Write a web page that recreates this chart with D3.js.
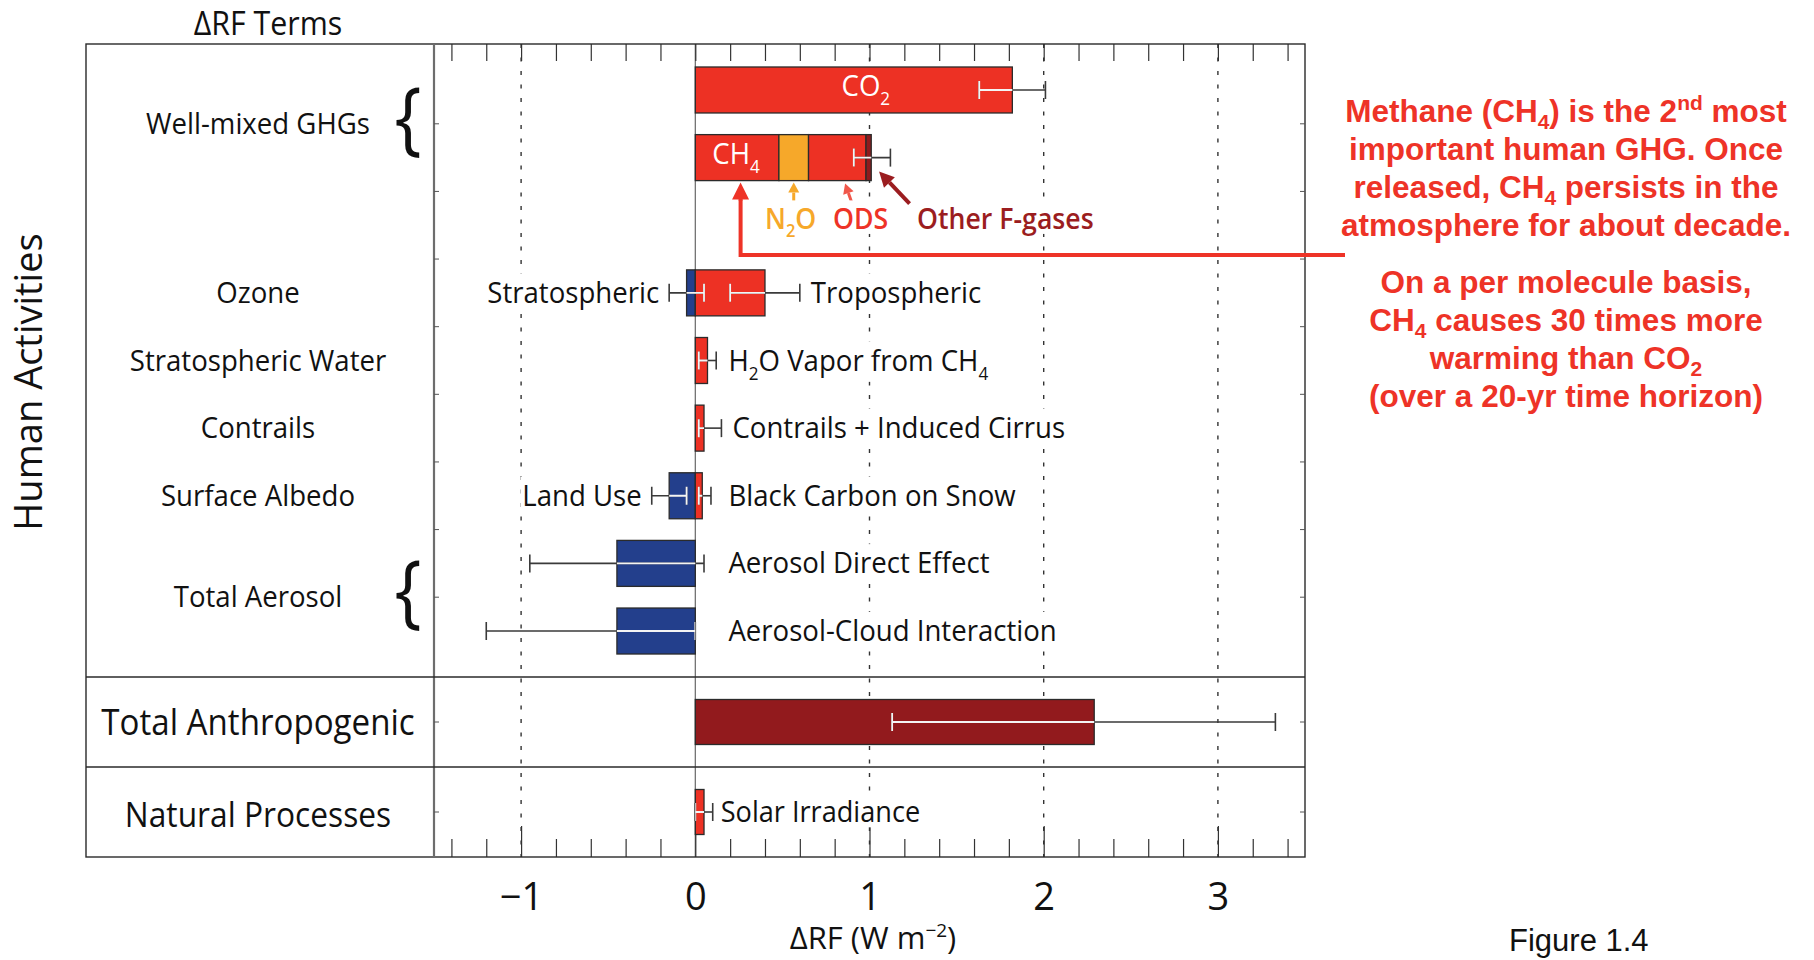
<!DOCTYPE html>
<html>
<head>
<meta charset="utf-8">
<script src="https://cdn.jsdelivr.net/npm/d3@7"></script>
<style>
  html, body { margin: 0; padding: 0; background: #fff; }
  svg { display: block; }
  .sans { font-family: "Open Sans", "Noto Sans", sans-serif; }
  .note { font-family: "Liberation Sans", Arial, sans-serif; font-weight: bold; }
</style>
</head>
<body>
<svg id="chart" width="1814" height="960"></svg>
<script>
// ---- Radiative forcing terms (W m-2): best estimate and uncertainty range ----
const rowOrder = ["co2", "ch4", "gap", "ozone", "h2o", "contrails", "albedo", "aerDirect", "aerCloud"];
const panelOrder = ["total", "natural"];

const groupLabels = [
  { label: "Well-mixed GHGs", rows: ["co2", "ch4"], brace: true },
  { label: "Ozone", rows: ["ozone"] },
  { label: "Stratospheric Water", rows: ["h2o"] },
  { label: "Contrails", rows: ["contrails"] },
  { label: "Surface Albedo", rows: ["albedo"] },
  { label: "Total Aerosol", rows: ["aerDirect", "aerCloud"], brace: true }
];
const panelLabels = [
  { panel: "total", label: "Total Anthropogenic" },
  { panel: "natural", label: "Natural Processes" }
];

// CH4-row stack of well-mixed non-CO2 gases
const ghgStack = [
  { term: "CH4", value: 0.48 },
  { term: "N2O", value: 0.17 },
  { term: "ODS", value: 0.33 },
  { term: "Other F-gases", value: 0.03 }
];
const ghgRange = [0.91, 1.12];

const co2Term = { row: "co2", term: "CO_{2}", value: 1.82, lo: 1.63, hi: 2.01 };

const terms = [
  { row: "ozone", term: "Stratospheric", value: -0.05, lo: -0.15, hi: 0.05 },
  { row: "ozone", term: "Tropospheric", value: 0.40, lo: 0.20, hi: 0.60 },
  { row: "h2o", term: "H_{2}O Vapor from CH_{4}", value: 0.07, lo: 0.02, hi: 0.12 },
  { row: "contrails", term: "Contrails + Induced Cirrus", value: 0.05, lo: 0.02, hi: 0.15 },
  { row: "albedo", term: "Land Use", value: -0.15, lo: -0.25, hi: -0.05 },
  { row: "albedo", term: "Black Carbon on Snow", value: 0.04, lo: 0.02, hi: 0.09 },
  { row: "aerDirect", term: "Aerosol Direct Effect", value: -0.45, lo: -0.95, hi: 0.05 },
  { row: "aerCloud", term: "Aerosol-Cloud Interaction", value: -0.45, lo: -1.20, hi: 0.00 }
];

const panelTerms = [
  { panel: "total", term: "", value: 2.29, lo: 1.13, hi: 3.33 },
  { panel: "natural", term: "Solar Irradiance", value: 0.05, lo: 0.00, hi: 0.10 }
];

const xTickLabels = [-1, 0, 1, 2, 3];
const xMinorTicks = d3.range(-7, 18).map(i => i / 5);

const noteLines = [
  ["Methane (CH_{4}) is the 2^{nd} most", "important human GHG. Once",
   "released, CH_{4} persists in the", "atmosphere for about decade."],
  ["On a per molecule basis,", "CH_{4} causes 30 times more",
   "warming than CO_{2}", "(over a 20-yr time horizon)"]
];

// ---- colours ----
const colours = {
  warm: "#ed3124", cool: "#233f8c",
  "N2O": "#f6a82a", "ODS": "#ed3124", "Other F-gases": "#8e1b1d",
  total: "#921a1d", frame: "#2a2a2a", err: "#3a3a3a",
  note: "#ee3327", odsArrow: "#f0574a", fgas: "#9b1d20"
};

// ---- layout ----
const frame = { left: 86, right: 1305, top: 44, bottom: 857, split: 434, upperBottom: 677 };
const squeeze = 0.92;   // narrow the sans labels slightly
const svg = d3.select("#chart");

const x = d3.scaleLinear().domain([-1.5, 3.5]).range([frame.split, frame.right]);
const yRow = d3.scaleBand().domain(rowOrder).range([frame.top, frame.upperBottom])
  .paddingInner(0.32).paddingOuter(0.34);
const yPanel = d3.scaleBand().domain(panelOrder).range([frame.upperBottom, frame.bottom])
  .paddingInner(0.5).paddingOuter(0.25);
const rowMid = r => yRow(r) + yRow.bandwidth() / 2;
const panelMid = p => yPanel(p) + yPanel.bandwidth() / 2;

// text with _{sub} / ^{sup} markup
function rich(sel, str, small, sub, sup) {
  const parts = str.split(/([_^]\{[^}]*\})/).filter(s => s.length);
  let shift = 0;
  parts.forEach(p => {
    const m = p.match(/^([_^])\{([^}]*)\}$/);
    if (m) {
      const d = m[1] === "_" ? sub : -sup;
      sel.append("tspan").attr("dy", d - shift).attr("font-size", small).text(m[2]);
      shift = d;
    } else {
      sel.append("tspan").attr("dy", -shift).text(p);
      shift = 0;
    }
  });
  return sel;
}

// narrowed sans label, optionally on a white backing
function label(parent, str, xPos, yPos, opts) {
  const o = Object.assign({ size: 30, anchor: "start", fill: "#111", weight: 400, backing: false, sx: squeeze }, opts);
  const g = parent.append("g").attr("transform", `translate(${xPos},${yPos}) scale(${o.sx},1)`);
  const bg = o.backing ? g.append("rect").attr("fill", "#fff") : null;
  const t = rich(g.append("text").attr("class", "sans").attr("font-size", o.size)
    .attr("font-weight", o.weight).attr("fill", o.fill).attr("text-anchor", o.anchor),
    str, o.size * 0.62, o.size * 0.3, 0);
  if (bg) {
    const b = t.node().getBBox();
    bg.attr("x", b.x - 2).attr("y", b.y + 3).attr("width", b.width + 4).attr("height", b.height - 6);
  }
  return g;
}

// ---- grid ----
const grid = svg.append("g");
grid.selectAll("line.dash").data(xTickLabels.filter(d => d !== 0)).join("line")
  .attr("x1", d => x(d)).attr("x2", d => x(d))
  .attr("y1", frame.top).attr("y2", frame.bottom)
  .attr("stroke", "#333").attr("stroke-width", 1.4).attr("stroke-dasharray", "4,9.5");
grid.append("line")
  .attr("x1", x(0)).attr("x2", x(0)).attr("y1", frame.top).attr("y2", frame.bottom)
  .attr("stroke", "#666").attr("stroke-width", 1.2);

// ---- axes (ticks along top and bottom frame) ----
const axTop = svg.append("g").attr("transform", `translate(0,${frame.top})`)
  .call(d3.axisBottom(x).tickValues(xMinorTicks).tickSize(17).tickFormat(""));
const axBottomMinor = svg.append("g").attr("transform", `translate(0,${frame.bottom})`)
  .call(d3.axisBottom(x).tickValues(xMinorTicks.filter(t => Math.abs(t - Math.round(t)) > 1e-9))
    .tickSize(-18).tickFormat(""));
const axBottomMajor = svg.append("g").attr("transform", `translate(0,${frame.bottom})`)
  .call(d3.axisBottom(x).tickValues(xTickLabels).tickSize(-31).tickPadding(26)
    .tickFormat(d => d < 0 ? "\u2212" + Math.abs(d) : d));
[axTop, axBottomMinor, axBottomMajor].forEach(a => {
  a.select(".domain").remove();
  a.selectAll(".tick line").attr("stroke", "#333").attr("stroke-width", 1.2);
});
[axTop, axBottomMinor].forEach(a => a.selectAll(".tick text").remove());
axBottomMajor.selectAll(".tick text")
  .attr("class", "sans").attr("font-size", 38).attr("fill", "#111");

// ---- frame ----
const fr = svg.append("g").attr("fill", "none");
fr.append("rect").attr("x", frame.left).attr("y", frame.top)
  .attr("width", frame.right - frame.left).attr("height", frame.bottom - frame.top)
  .attr("stroke", colours.frame).attr("stroke-width", 1.4);
fr.append("line").attr("x1", frame.split).attr("x2", frame.split)
  .attr("y1", frame.top).attr("y2", frame.bottom).attr("stroke", "#6d6d6d").attr("stroke-width", 2.2);
panelOrder.forEach(p => {
  fr.append("line").attr("x1", frame.left).attr("x2", frame.right)
    .attr("y1", yPanel(p) - yPanel.step() * 0.25).attr("y2", yPanel(p) - yPanel.step() * 0.25)
    .attr("stroke", colours.frame).attr("stroke-width", 1.3);
});
// small row ticks on both vertical axes
const rowTicks = rowOrder.slice(1).map(r => yRow(r) - yRow.step() * yRow.paddingInner() / 2)
  .concat(panelOrder.map(panelMid));
rowTicks.forEach(t => {
  fr.append("line").attr("x1", frame.split).attr("x2", frame.split + 5).attr("y1", t).attr("y2", t)
    .attr("stroke", "#555").attr("stroke-width", 1);
  fr.append("line").attr("x1", frame.right - 5).attr("x2", frame.right).attr("y1", t).attr("y2", t)
    .attr("stroke", "#555").attr("stroke-width", 1);
});

// ---- bars ----
const bars = [];
bars.push({ y: yRow("co2"), h: yRow.bandwidth(), x0: 0, x1: co2Term.value, fill: colours.warm });
let acc = 0;
ghgStack.forEach(s => {
  bars.push({ y: yRow("ch4"), h: yRow.bandwidth(), x0: acc, x1: acc + s.value,
    fill: s.term === "CH4" ? colours.warm : colours[s.term] });
  acc += s.value;
});
terms.forEach(t => {
  bars.push({ y: yRow(t.row), h: yRow.bandwidth(), x0: Math.min(0, t.value), x1: Math.max(0, t.value),
    fill: t.value < 0 ? colours.cool : colours.warm });
});
panelTerms.forEach(t => {
  bars.push({ y: yPanel(t.panel), h: yPanel.bandwidth(), x0: Math.min(0, t.value), x1: Math.max(0, t.value),
    fill: t.panel === "total" ? colours.total : colours.warm });
});

const barRect = sel => sel
  .attr("x", d => x(d.x0)).attr("width", d => x(d.x1) - x(d.x0))
  .attr("y", d => d.y).attr("height", d => d.h);

svg.append("g").selectAll("rect").data(bars).join("rect").call(barRect)
  .attr("fill", d => d.fill).attr("stroke", "#2b2b2b").attr("stroke-width", 1.3);

svg.append("defs").append("clipPath").attr("id", "barClip")
  .selectAll("rect").data(bars).join("rect").call(barRect);

// ---- uncertainty ranges ----
const ranges = [];
ranges.push({ lo: co2Term.lo, hi: co2Term.hi, cy: rowMid("co2") });
ranges.push({ lo: ghgRange[0], hi: ghgRange[1], cy: rowMid("ch4") });
terms.forEach(t => ranges.push({ lo: t.lo, hi: t.hi, cy: rowMid(t.row) }));
panelTerms.forEach(t => ranges.push({ lo: t.lo, hi: t.hi, cy: panelMid(t.panel) }));

function drawRanges(g, colour, width) {
  const cap = 9;
  const r = g.selectAll("g").data(ranges).join("g");
  r.append("line").attr("x1", d => x(d.lo)).attr("x2", d => x(d.hi))
    .attr("y1", d => d.cy).attr("y2", d => d.cy);
  r.append("line").attr("x1", d => x(d.lo)).attr("x2", d => x(d.lo))
    .attr("y1", d => d.cy - cap).attr("y2", d => d.cy + cap);
  r.append("line").attr("x1", d => x(d.hi)).attr("x2", d => x(d.hi))
    .attr("y1", d => d.cy - cap).attr("y2", d => d.cy + cap);
  r.selectAll("line").attr("stroke", colour).attr("stroke-width", width);
}
drawRanges(svg.append("g"), colours.err, 1.6);
drawRanges(svg.append("g").attr("clip-path", "url(#barClip)"), "#f4f4f4", 1.8);

// ---- in-bar labels ----
label(svg, co2Term.term, (x(0) + x(co2Term.value)) / 2 + 12, rowMid("co2") + 6,
  { size: 30, anchor: "middle", fill: "#fff" });
label(svg, "CH_{4}", x(0) + 17, rowMid("ch4") + 6, { size: 30, fill: "#fff" });

// ---- term labels beside bars (white backing hides grid) ----
const labelCol = x(0.19);
terms.forEach(t => {
  const rowHasWarm = terms.some(o => o.row === t.row && o.value > 0);
  const left = t.value < 0 && rowHasWarm;
  if (left) label(svg, t.term, x(t.lo) - 10, rowMid(t.row) + 10, { anchor: "end", backing: true });
  else label(svg, t.term, Math.max(labelCol, x(t.hi) + 11), rowMid(t.row) + 10, { backing: true });
});
panelTerms.filter(t => t.term).forEach(t => {
  label(svg, t.term, x(t.hi) + 8, panelMid(t.panel) + 10, { size: 29.5, backing: true });
});

// ---- category labels ----
const catX = 258;
groupLabels.forEach(gl => {
  const cy = d3.mean(gl.rows, rowMid);
  label(svg, gl.label, catX, cy + 10, { anchor: "middle", size: 30 });
  if (gl.brace) {
    label(svg, "{", 408, cy + 21, { anchor: "middle", size: 80, weight: 400, sx: 0.9 });
  }
});
panelLabels.forEach((pl, i) => {
  label(svg, pl.label, catX, panelMid(pl.panel) + 13 + i * 2,
    { anchor: "middle", size: i === 0 ? 36 : 34.5 });
});

// ---- titles ----
label(svg, "\u0394RF Terms", 268, 35, { anchor: "middle", size: 33 });
svg.append("text").attr("class", "sans").attr("font-size", 38).attr("fill", "#111")
  .attr("text-anchor", "middle").attr("transform", "translate(42,382) rotate(-90)")
  .text("Human Activities");
rich(svg.append("text").attr("class", "sans").attr("font-size", 31).attr("fill", "#111")
  .attr("text-anchor", "middle").attr("x", 873).attr("y", 949),
  "\u0394RF (W m^{\u22122})", 19, 0, 12);
svg.append("text").attr("font-family", "Liberation Sans, Arial, sans-serif").attr("font-size", 31)
  .attr("fill", "#111").attr("x", 1509).attr("y", 951).text("Figure 1.4");

// ---- CH4-row annotations ----
function arrow(x1, y1, x2, y2, colour, width, headLen, headW) {
  const ang = Math.atan2(y2 - y1, x2 - x1);
  const bx = x2 - headLen * Math.cos(ang), by = y2 - headLen * Math.sin(ang);
  svg.append("line").attr("x1", x1).attr("y1", y1).attr("x2", bx).attr("y2", by)
    .attr("stroke", colour).attr("stroke-width", width);
  const px = -Math.sin(ang) * headW / 2, py = Math.cos(ang) * headW / 2;
  svg.append("path").attr("d", `M${x2},${y2}L${bx + px},${by + py}L${bx - px},${by - py}Z`)
    .attr("fill", colour);
}
const barBottom = yRow("ch4") + yRow.bandwidth();
// long call-out arrow from the note to the CH4 segment
const calloutX = x(0.26), calloutY = 255, noteEdge = 1345;
svg.append("path").attr("d", `M${noteEdge},${calloutY}H${calloutX}V${barBottom + 18}`)
  .attr("fill", "none").attr("stroke", colours.note).attr("stroke-width", 4);
arrow(calloutX, barBottom + 20, calloutX, barBottom + 2, colours.note, 4, 17, 17);

const n2oMid = x(ghgStack[0].value + ghgStack[1].value / 2);
arrow(n2oMid, barBottom + 23, n2oMid, barBottom + 2, colours["N2O"], 3, 10, 11);
arrow(x(0.90), barBottom + 23, x(0.86), barBottom + 3, colours.odsArrow, 3, 10, 11);
arrow(x(1.23), barBottom + 23, x(1.055), barBottom - 9, colours.fgas, 4, 15, 15);

label(svg, "N_{2}O", 765, barBottom + 48, { size: 29, weight: 600, fill: colours["N2O"], backing: true });
label(svg, "ODS", 833, barBottom + 48, { size: 29, weight: 600, fill: colours.note, backing: true });
label(svg, "Other F-gases", 917, barBottom + 48, { size: 29, weight: 600, fill: colours.fgas, backing: true });

// ---- note block ----
const noteX = 1566;
const noteBase = [[122, 160, 198, 236], [293, 331, 369, 407]];
noteLines.forEach((para, pi) => {
  para.forEach((line, li) => {
    rich(svg.append("text").attr("class", "note").attr("font-size", 31.5).attr("fill", colours.note)
      .attr("text-anchor", "middle").attr("x", noteX).attr("y", noteBase[pi][li]),
      line, 21, 7, 12);
  });
});
</script>
</body>
</html>
